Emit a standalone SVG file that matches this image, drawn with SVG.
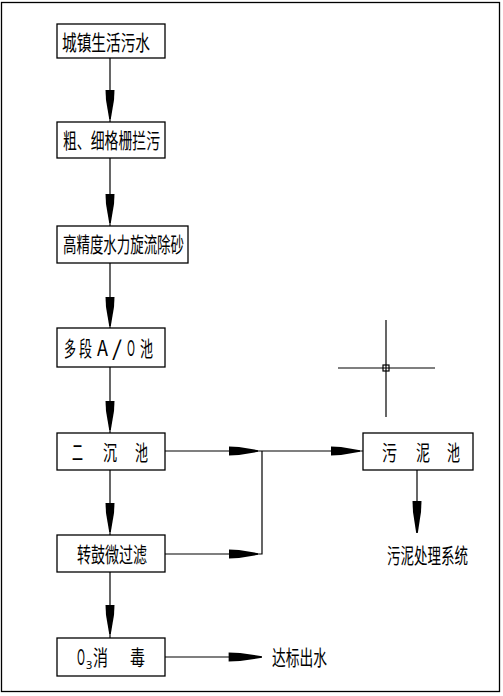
<svg xmlns="http://www.w3.org/2000/svg" xmlns:xlink="http://www.w3.org/1999/xlink" width="503" height="696" viewBox="0 0 503 696">
<style>
.box{fill:#fff;stroke:#000;stroke-width:1.3}
.ln{fill:none;stroke:#000;stroke-width:1.2}
.t{font-family:"Noto Sans CJK SC","Noto Sans",sans-serif;font-size:21px;fill:#000}
.s{font-family:"Noto Sans","DejaVu Sans",sans-serif;font-size:11px;fill:#000}
</style>
<defs>
<path id="ah" d="M-29,-4.5 L-19,-4 L0,-0.8 L0,0.8 L-19,4 L-29,4.5 Z" fill="#000"/>
</defs>
<rect x="1.5" y="2.5" width="498" height="689" fill="#fff" stroke="#000" stroke-width="1.3"/>
<g id="connectors">
<line class="ln" x1="110" y1="58" x2="110" y2="123"/>
<use xlink:href="#ah" transform="translate(110,119) rotate(90)"/>
<line class="ln" x1="110" y1="158" x2="110" y2="227"/>
<use xlink:href="#ah" transform="translate(110,223) rotate(90)"/>
<line class="ln" x1="110" y1="263" x2="110" y2="328"/>
<use xlink:href="#ah" transform="translate(110,326) rotate(90)"/>
<line class="ln" x1="110" y1="367" x2="110" y2="433"/>
<use xlink:href="#ah" transform="translate(110,430) rotate(90)"/>
<line class="ln" x1="110" y1="470" x2="110" y2="535"/>
<use xlink:href="#ah" transform="translate(110,532) rotate(90)"/>
<line class="ln" x1="110" y1="572" x2="110" y2="638"/>
<use xlink:href="#ah" transform="translate(110,634) rotate(90)"/>
<polyline class="ln" points="165,451 262,451 363,451"/>
<polyline class="ln" points="165,554 262,554 262,451"/>
<use xlink:href="#ah" transform="translate(258,451)"/>
<use xlink:href="#ah" transform="translate(360,451)"/>
<use xlink:href="#ah" transform="translate(258,554)"/>
<line class="ln" x1="165" y1="657" x2="235" y2="657"/>
<use xlink:href="#ah" transform="translate(262,657) scale(1.15,1)"/>
<line class="ln" x1="417" y1="470" x2="417" y2="505" stroke-width="2"/>
<use xlink:href="#ah" transform="translate(417,533) rotate(90) scale(1.1,1)"/>
</g>
<g id="n1"><rect class="box" x="57" y="24" width="108" height="34"/><text class="t" x="62" y="50" textLength="88" lengthAdjust="spacingAndGlyphs">城镇生活污水</text></g>
<g id="n2"><rect class="box" x="57" y="122" width="108" height="36"/><text class="t" x="63" y="148" textLength="97" lengthAdjust="spacingAndGlyphs">粗、细格栅拦污</text></g>
<g id="n3"><rect class="box" x="57" y="226" width="131" height="37"/><text class="t" x="63" y="252" textLength="121" lengthAdjust="spacingAndGlyphs">高精度水力旋流除砂</text></g>
<g id="n4"><rect class="box" x="57" y="328" width="108" height="39"/>
<text class="t" x="64" y="356" textLength="12" lengthAdjust="spacingAndGlyphs">多</text>
<text class="t" x="79" y="356" textLength="13" lengthAdjust="spacingAndGlyphs">段</text>
<text class="t" x="97" y="356" textLength="11" lengthAdjust="spacingAndGlyphs">A</text>
<text class="t" x="112" y="356" textLength="10" lengthAdjust="spacingAndGlyphs">/</text>
<text class="t" x="127" y="356" textLength="8" lengthAdjust="spacingAndGlyphs">O</text>
<text class="t" x="140" y="356" textLength="13" lengthAdjust="spacingAndGlyphs">池</text></g>
<g id="n5"><rect class="box" x="57" y="433" width="108" height="37"/>
<text class="t" x="72" y="460" textLength="11" lengthAdjust="spacingAndGlyphs">二</text>
<text class="t" x="103" y="460" textLength="14" lengthAdjust="spacingAndGlyphs">沉</text>
<text class="t" x="135" y="460" textLength="13" lengthAdjust="spacingAndGlyphs">池</text></g>
<g id="n6"><rect class="box" x="57" y="535" width="108" height="37"/><text class="t" x="77" y="562" textLength="70" lengthAdjust="spacingAndGlyphs">转鼓微过滤</text></g>
<g id="n7"><rect class="box" x="57" y="638" width="108" height="38"/>
<text class="t" x="77" y="665" textLength="8" lengthAdjust="spacingAndGlyphs">O</text>
<text class="s" x="86" y="669">3</text>
<text class="t" x="93" y="665" textLength="15" lengthAdjust="spacingAndGlyphs">消</text>
<text class="t" x="130" y="665" textLength="15" lengthAdjust="spacingAndGlyphs">毒</text></g>
<g id="n8"><rect class="box" x="363" y="433" width="110" height="37"/>
<text class="t" x="382" y="460" textLength="15" lengthAdjust="spacingAndGlyphs">污</text>
<text class="t" x="416" y="460" textLength="14" lengthAdjust="spacingAndGlyphs">泥</text>
<text class="t" x="447" y="460" textLength="13" lengthAdjust="spacingAndGlyphs">池</text></g>
<g id="n9"><text class="t" x="387" y="563" textLength="81" lengthAdjust="spacingAndGlyphs">污泥处理系统</text></g>
<g id="n10"><text class="t" x="272" y="665" textLength="55" lengthAdjust="spacingAndGlyphs">达标出水</text></g>
<g id="crosshair" stroke="#000" stroke-width="1.2" fill="none">
<line x1="386" y1="320" x2="386" y2="417"/>
<line x1="338" y1="368" x2="435" y2="368"/>
<rect x="383" y="365" width="6" height="6"/>
</g>
</svg>
